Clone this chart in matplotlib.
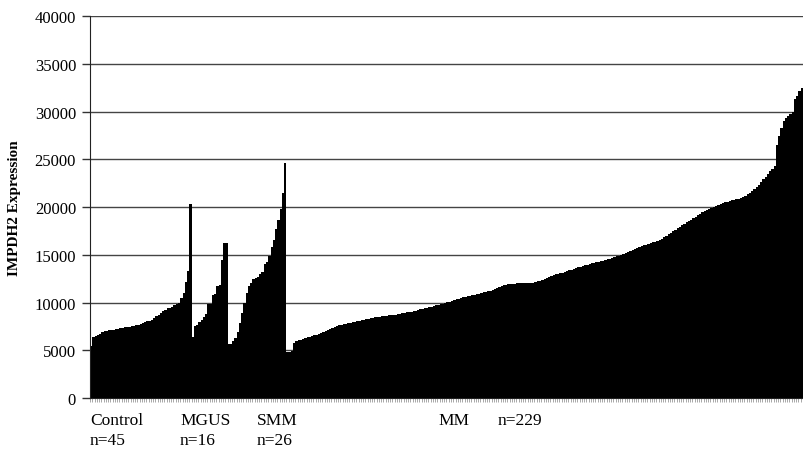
import numpy as np
import matplotlib
matplotlib.use('Agg')
import matplotlib.pyplot as plt

# Sorted IMPDH2 expression per sample, one list per group
control = [5500, 6400, 6500, 6550, 6700, 6900, 7000, 7050, 7100, 7100,
           7150, 7200, 7250, 7300, 7350, 7400, 7400, 7450, 7500, 7500,
           7600, 7700, 7800, 7900, 8000, 8050, 8100, 8200, 8400, 8600,
           8700, 8900, 9100, 9200, 9400, 9450, 9550, 9700, 9900, 10000,
           10500, 11000, 12200, 13300, 20300]
mgus = [6350, 7550, 7700, 8000, 8200, 8500, 8800, 9800, 9900, 10800,
        10900, 11700, 11800, 14500, 16200, 16200]
smm = [5650, 5700, 6000, 6300, 6900, 7900, 8900, 10000, 11000, 11700,
       12000, 12500, 12600, 12700, 13000, 13200, 14000, 14300, 14900, 15800,
       16600, 17700, 18700, 19800, 21500, 24600]
mm = [4800, 4800, 4900, 5800, 6000, 6050, 6100, 6200, 6300, 6350,
      6400, 6450, 6550, 6600, 6700, 6800, 6900, 7000, 7100, 7200,
      7300, 7400, 7500, 7600, 7700, 7750, 7800, 7850, 7900, 7950,
      8000, 8050, 8100, 8150, 8200, 8250, 8300, 8350, 8400, 8450,
      8450, 8500, 8550, 8600, 8600, 8650, 8700, 8700, 8750, 8800,
      8850, 8900, 8950, 9000, 9000, 9050, 9100, 9150, 9200, 9300,
      9350, 9400, 9450, 9500, 9550, 9600, 9700, 9750, 9800, 9900,
      10000, 10050, 10100, 10200, 10300, 10350, 10400, 10500, 10550, 10600,
      10650, 10700, 10750, 10800, 10850, 10900, 11000, 11100, 11150, 11200,
      11250, 11300, 11400, 11500, 11600, 11700, 11800, 11850, 11900, 11950,
      11950, 11950, 12000, 12000, 12000, 12000, 12050, 12050, 12100, 12100,
      12200, 12250, 12300, 12400, 12450, 12550, 12650, 12750, 12850, 12950,
      13000, 13050, 13150, 13250, 13300, 13400, 13450, 13550, 13600, 13700,
      13750, 13800, 13900, 13950, 14000, 14100, 14150, 14200, 14250, 14350,
      14400, 14450, 14550, 14600, 14700, 14750, 14850, 14900, 15000, 15100,
      15200, 15300, 15400, 15500, 15600, 15700, 15800, 15900, 16000, 16000,
      16100, 16200, 16300, 16400, 16500, 16600, 16700, 16850, 17000, 17150,
      17300, 17450, 17600, 17800, 17950, 18100, 18250, 18400, 18550, 18700,
      18850, 19000, 19150, 19300, 19450, 19600, 19700, 19800, 19900, 20000,
      20100, 20200, 20300, 20400, 20500, 20550, 20600, 20700, 20750, 20850,
      20900, 21000, 21100, 21200, 21350, 21500, 21700, 21900, 22100, 22300,
      22600, 22900, 23200, 23500, 23800, 24000, 24300, 26500, 27500, 28300,
      29000, 29300, 29600, 29800, 30000, 31300, 31700, 32200, 32500]

group_names = ['Control', 'MGUS', 'SMM', 'MM']
group_counts = ['n=45', 'n=16', 'n=26', 'n=229']
yticks = [0, 5000, 10000, 15000, 20000, 25000, 30000, 35000, 40000]

values = np.array(control + mgus + smm + mm)
x = np.arange(len(values))

plt.rcParams['font.family'] = ['Liberation Serif', 'DejaVu Serif']

fig = plt.figure(figsize=(8.04, 4.52), dpi=100)
ax = fig.add_axes([90 / 804, 1 - 399 / 452, 713 / 804, (399 - 17.3) / 452])

# gridlines behind the bars
for yv in yticks[1:]:
    ax.axhline(yv, color='#444444', linewidth=1.0, zorder=0)

ax.bar(x, values, width=1.0, color='black', linewidth=0, zorder=2)

ax.set_xlim(-0.5, len(values) - 0.5)
ax.set_ylim(0, 40000)
ax.set_yticks(yticks)
ax.set_yticklabels([str(v) for v in yticks], fontsize=12)
ax.tick_params(axis='y', direction='out', length=6, width=1, color='#333333', pad=4)

# little hash marks under every bar
ax.set_xticks(np.arange(len(values) + 1) - 0.5)
ax.set_xticklabels([])
ax.tick_params(axis='x', direction='out', length=3, width=0.6, color='#9a9a9a')

for side in ['top', 'right']:
    ax.spines[side].set_visible(False)
ax.spines['left'].set_color('#222222')
ax.spines['bottom'].set_color('#222222')
ax.spines['left'].set_zorder(3)

fig.text(15 / 804, 1 - 208 / 452, 'IMPDH2 Expression', rotation=90,
         ha='center', va='center', fontsize=11, fontweight='bold')

# group labels under the axis
name_x = [90, 180, 257, 438]
count_x = [90, 180, 257, 498]
for i in range(3):
    fig.text(name_x[i] / 804, 1 - 421 / 452, group_names[i], ha='left', va='center', fontsize=12.5)
    fig.text(count_x[i] / 804, 1 - 441 / 452, group_counts[i], ha='left', va='center', fontsize=12.5)
fig.text(name_x[3] / 804, 1 - 421 / 452, group_names[3], ha='left', va='center', fontsize=12.5)
fig.text(count_x[3] / 804, 1 - 421 / 452, group_counts[3], ha='left', va='center', fontsize=12.5)

fig.savefig('out.png', dpi=100, facecolor='white')
